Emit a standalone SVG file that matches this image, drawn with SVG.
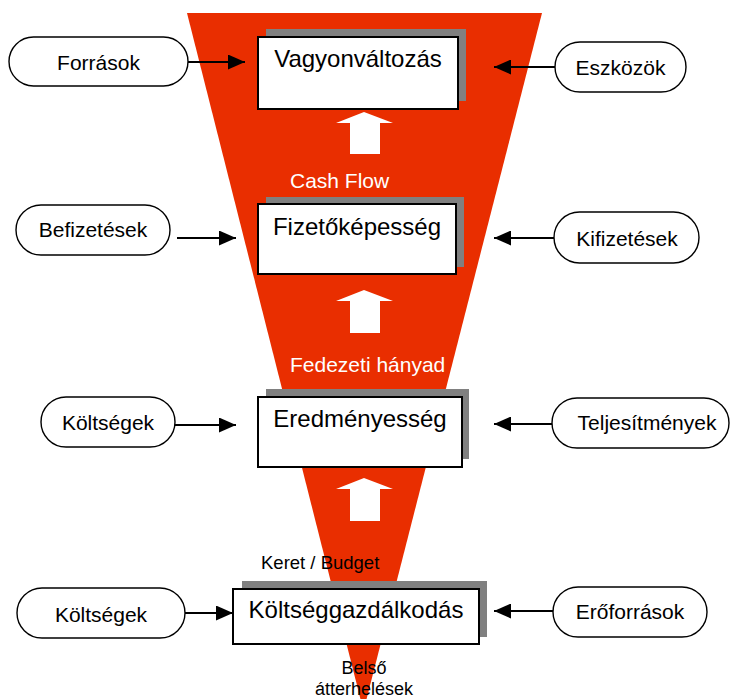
<svg xmlns="http://www.w3.org/2000/svg" width="731" height="699" viewBox="0 0 731 699">
<defs>
<style>
.pill{fill:#fff;stroke:#000;stroke-width:1.4}
.box{fill:#fff;stroke:#000;stroke-width:2}
.shadow{fill:#808080}
.t{font-family:"Liberation Sans",Arial,sans-serif;fill:#000;text-anchor:middle}
.pt{font-size:21px}
.bt{font-size:24px}
.wt{font-family:"Liberation Sans",Arial,sans-serif;fill:#fff;font-size:21px}
.st{font-family:"Liberation Sans",Arial,sans-serif;fill:#000;font-size:18.5px}
.bl{font-family:"Liberation Sans",Arial,sans-serif;fill:#000;font-size:18px;text-anchor:middle}
.con{stroke:#000;stroke-width:2;fill:none;marker-end:url(#ah)}
.up{fill:#fff}
</style>
<marker id="ah" markerUnits="userSpaceOnUse" markerWidth="17" markerHeight="15" refX="17" refY="7.5" orient="auto">
<path d="M0,0 L17,7.5 L0,15 z" fill="#000"/>
</marker>
</defs>
<rect width="731" height="699" fill="#fff"/>
<polygon id="funnel" points="187,13 542,13 363.5,711" fill="#E92E00"/>

<g id="flow-arrows">
<polygon class="up" points="336,123 364,112 393,123 380,123 380,154 350,154 350,123"/>
<polygon class="up" points="336,301 364,290 393,301 380,301 380,333 350,333 350,301"/>
<polygon class="up" points="336,489 364,478 393,489 380,489 380,521 350,521 350,489"/>
</g>

<text class="wt" x="290" y="188">Cash Flow</text>
<text class="wt" x="290" y="372">Fedezeti hányad</text>
<text class="st" x="261" y="569">Keret / Budget</text>
<text class="bl" x="364" y="674">Belső</text>
<text class="bl" x="364" y="695">átterhelések</text>

<g id="node-vagyon">
<rect class="shadow" x="266" y="29" width="200" height="72"/>
<rect class="box" x="258" y="37" width="200" height="72"/>
<text class="t bt" x="358" y="67">Vagyonváltozás</text>
</g>
<g id="node-fizeto">
<rect class="shadow" x="266" y="197" width="198" height="70"/>
<rect class="box" x="258" y="204" width="198" height="70"/>
<text class="t bt" x="357" y="235">Fizetőképesség</text>
</g>
<g id="node-eredmeny">
<rect class="shadow" x="266" y="389" width="203" height="70"/>
<rect class="box" x="258" y="397" width="204" height="70"/>
<text class="t bt" x="360" y="427">Eredményesség</text>
</g>
<g id="node-koltseggazd">
<rect class="shadow" x="242" y="581" width="245" height="56"/>
<rect class="box" x="233" y="589" width="246" height="55"/>
<text class="t bt" x="356" y="618">Költséggazdálkodás</text>
</g>

<g id="node-forrasok">
<rect class="pill" x="9" y="37" width="179" height="49" rx="24.5"/>
<text class="t pt" x="98.5" y="70">Források</text>
</g>
<g id="node-eszkozok">
<rect class="pill" x="555" y="42" width="131" height="50" rx="25"/>
<text class="t pt" x="620.5" y="75">Eszközök</text>
</g>
<g id="node-befizetesek">
<rect class="pill" x="16" y="205" width="154" height="50" rx="25"/>
<text class="t pt" x="93" y="237">Befizetések</text>
</g>
<g id="node-kifizetesek">
<rect class="pill" x="554" y="212" width="145" height="51" rx="25.5"/>
<text class="t pt" x="627" y="246">Kifizetések</text>
</g>
<g id="node-koltsegek1">
<rect class="pill" x="41" y="397" width="134" height="50" rx="25"/>
<text class="t pt" x="108" y="430">Költségek</text>
</g>
<g id="node-teljesitmenyek">
<rect class="pill" x="552" y="398" width="177" height="50" rx="25"/>
<text class="t pt" x="647" y="430">Teljesítmények</text>
</g>
<g id="node-koltsegek2">
<rect class="pill" x="17" y="588" width="168" height="50" rx="25"/>
<text class="t pt" x="101" y="622">Költségek</text>
</g>
<g id="node-eroforrasok">
<rect class="pill" x="553" y="587" width="154" height="50" rx="25"/>
<text class="t pt" x="630" y="619">Erőforrások</text>
</g>

<g id="connectors">
<line class="con" x1="188" y1="62" x2="245" y2="62"/>
<line class="con" x1="555" y1="67" x2="494" y2="67"/>
<line class="con" x1="177" y1="238" x2="236" y2="238"/>
<line class="con" x1="554" y1="238" x2="494" y2="238"/>
<line class="con" x1="175" y1="425" x2="236" y2="425"/>
<line class="con" x1="552" y1="424" x2="494" y2="424"/>
<line class="con" x1="185" y1="613" x2="233" y2="613"/>
<line class="con" x1="553" y1="611" x2="494" y2="611"/>
</g>
</svg>
